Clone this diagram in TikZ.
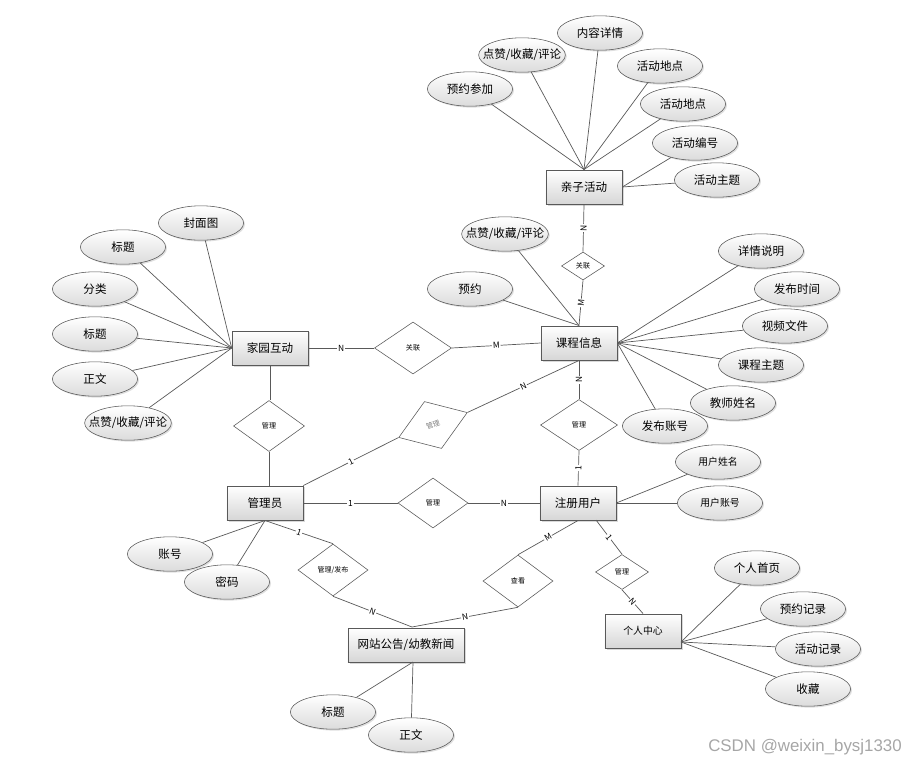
\documentclass[tikz,border=0pt]{standalone}
\usepackage{fontspec}
\setmainfont{Noto Sans CJK SC}
\newfontfamily\wmfont{Liberation Sans}
\usepackage{tikz}
\usetikzlibrary{shapes.geometric, shadows}

\tikzset{
  entity/.style={draw=black!65, top color=white, bottom color=black!16,
    minimum width=1.9cm, minimum height=0.86cm, inner sep=1pt,
    font=\fontsize{8.2}{9}\selectfont,
    drop shadow={opacity=0.3, shadow xshift=1.2pt, shadow yshift=-1.2pt}},
  attr/.style={ellipse, draw=black!65, top color=white, bottom color=black!14,
    minimum width=2.13cm, minimum height=0.86cm, inner xsep=-6pt, inner ysep=0pt,
    font=\fontsize{8.2}{9}\selectfont,
    drop shadow={opacity=0.25, shadow xshift=1pt, shadow yshift=-1pt}},
  rel/.style={diamond, draw=black!65, fill=white, inner sep=0pt,
    font=\fontsize{5}{5}\selectfont},
  link/.style={draw=black!65, line width=0.5pt},
  card/.style={fill=white, inner sep=0.6pt, sloped, font=\fontsize{6}{6}\selectfont},
}

\begin{document}
\begin{tikzpicture}[x=0.025cm, y=-0.025cm]
  \useasboundingbox (0,0) rectangle (907,763);

  % --- entities ---
  \node[entity] (qz) at (584,187) {亲子活动};
  \node[entity] (kc) at (579,343) {课程信息};
  \node[entity] (jy) at (270,348) {家园互动};
  \node[entity] (gly) at (265,503) {管理员};
  \node[entity] (zc) at (578,503) {注册用户};
  \node[entity, minimum width=2.9cm] (wz) at (406,645) {网站公告/幼教新闻};
  \node[entity, font=\fontsize{7}{8}\selectfont] (gr) at (643,631) {个人中心};

  % helper points on the boxes
  \coordinate (wzTop) at (412,627);
  \coordinate (wzBot) at (413,662);
  \coordinate (zcSE) at (596,520);
  \coordinate (grE) at (681,642);

  % --- relations ---
  \node[rel, minimum width=1.075cm, minimum height=0.7cm] (rqk) at (583,266) {关联};
  \node[rel, minimum width=1.925cm, minimum height=1.3cm] (rjk) at (413,348) {关联};
  \node[rel, minimum width=1.775cm, minimum height=1.275cm] (rjg) at (269,426) {管理};
  \node[rel, minimum width=1.825cm, minimum height=1.25cm, rotate=20, text=black!50] (rgk) at (433,425) {管理};
  \node[rel, minimum width=1.75cm, minimum height=1.25cm] (rgz) at (433,503) {管理};
  \node[rel, minimum width=1.925cm, minimum height=1.275cm] (rkz) at (579,425) {管理};
  \node[rel, minimum width=1.75cm, minimum height=1.3cm] (rgw) at (333,570) {管理/发布};
  \node[rel, minimum width=1.75cm, minimum height=1.3cm] (rzw) at (518,581) {查看};
  \node[rel, minimum width=1.325cm, minimum height=0.875cm] (rzg) at (622,572) {管理};

  % --- relation links ---
  \draw[link] (qz.south) -- node[card] {N} (rqk.north);
  \draw[link] (rqk.south) -- node[card] {M} (kc.north);
  \draw[link] (jy.east) -- node[card] {N} (rjk.west);
  \draw[link] (rjk.east) -- node[card] {M} (kc.west);
  \draw[link] (jy.south) -- (jy.south |- rjg.north);
  \draw[link] (rjg.south) -- (rjg.south |- gly.north);
  \draw[link] (gly.north east) -- node[card] {1} (rgk.west);
  \draw[link] (rgk.east) -- node[card] {N} (kc.south);
  \draw[link] (gly.east) -- node[card] {1} (rgz.west);
  \draw[link] (rgz.east) -- node[card] {N} (zc.west);
  \draw[link] (kc.south) -- node[card] {N} (rkz.north);
  \draw[link] (rkz.south) -- node[card] {1} (zc.north);
  \draw[link] (gly.south) -- node[card] {1} (rgw.north);
  \draw[link] (rgw.south) -- node[card] {N} (wzTop);
  \draw[link] (zc.south) -- node[card] {M} (rzw.north);
  \draw[link] (rzw.south) -- node[card] {N} (wzTop);
  \draw[link] (zcSE) -- node[card] {1} (rzg.north);
  \draw[link] (rzg.south) -- node[card] {N} (gr.north);

  % --- attributes of 亲子活动 ---
  \node[attr] (qz1) at (600,33) {内容详情};
  \node[attr] (qz2) at (522,55) {点赞/收藏/评论};
  \node[attr] (qz3) at (470,89) {预约参加};
  \node[attr] (qz4) at (660,66) {活动地点};
  \node[attr] (qz5) at (683,104) {活动地点};
  \node[attr] (qz6) at (695,143) {活动编号};
  \node[attr] (qz7) at (717,180) {活动主题};
  \draw[link] (qz1) -- (qz.north);
  \draw[link] (qz2) -- (qz.north);
  \draw[link] (qz3) -- (qz.north);
  \draw[link] (qz4) -- (qz.north);
  \draw[link] (qz5) -- (qz.north);
  \draw[link] (qz6) -- (qz.east);
  \draw[link] (qz7) -- (qz.east);

  % --- attributes of 课程信息 ---
  \node[attr] (kc1) at (505,234) {点赞/收藏/评论};
  \node[attr] (kc2) at (470,289) {预约};
  \node[attr] (kc3) at (761,251) {详情说明};
  \node[attr] (kc4) at (797,289) {发布时间};
  \node[attr] (kc5) at (785,326) {视频文件};
  \node[attr] (kc6) at (761,365) {课程主题};
  \node[attr] (kc7) at (733,403) {教师姓名};
  \node[attr] (kc8) at (665,426) {发布账号};
  \draw[link] (kc1) -- (kc.north);
  \draw[link] (kc2) -- (kc.north);
  \draw[link] (kc3) -- (kc.east);
  \draw[link] (kc4) -- (kc.east);
  \draw[link] (kc5) -- (kc.east);
  \draw[link] (kc6) -- (kc.east);
  \draw[link] (kc7) -- (kc.east);
  \draw[link] (kc8) -- (kc.east);

  % --- attributes of 家园互动 ---
  \node[attr] (jy1) at (201,223) {封面图};
  \node[attr] (jy2) at (123,247) {标题};
  \node[attr] (jy3) at (95,289) {分类};
  \node[attr] (jy4) at (95,334) {标题};
  \node[attr] (jy5) at (95,379) {正文};
  \node[attr] (jy6) at (128,423) {点赞/收藏/评论};
  \draw[link] (jy1) -- (jy.west);
  \draw[link] (jy2) -- (jy.west);
  \draw[link] (jy3) -- (jy.west);
  \draw[link] (jy4) -- (jy.west);
  \draw[link] (jy5) -- (jy.west);
  \draw[link] (jy6) -- (jy.west);

  % --- attributes of 管理员 ---
  \node[attr] (gly1) at (170,554) {账号};
  \node[attr] (gly2) at (227,582) {密码};
  \draw[link] (gly1) -- (gly.south);
  \draw[link] (gly2) -- (gly.south);

  % --- attributes of 注册用户 ---
  \node[attr, font=\fontsize{7}{8}\selectfont] (zc1) at (718,462) {用户姓名};
  \node[attr, font=\fontsize{7}{8}\selectfont] (zc2) at (720,503) {用户账号};
  \draw[link] (zc1) -- (zc.east);
  \draw[link] (zc2) -- (zc.east);

  % --- attributes of 网站公告/幼教新闻 ---
  \node[attr] (wz1) at (333,712) {标题};
  \node[attr] (wz2) at (411,735) {正文};
  \draw[link] (wz1) -- (wzBot);
  \draw[link] (wz2) -- (wzBot);

  % --- attributes of 个人中心 ---
  \node[attr] (gr1) at (757,568) {个人首页};
  \node[attr] (gr2) at (803,609) {预约记录};
  \node[attr] (gr3) at (818,649) {活动记录};
  \node[attr] (gr4) at (808,689) {收藏};
  \draw[link] (gr1) -- (grE);
  \draw[link] (gr2) -- (grE);
  \draw[link] (gr3) -- (grE);
  \draw[link] (gr4) -- (grE);

  % watermark
  \node[text=black!35, font=\wmfont\fontsize{12}{12}\selectfont] (wm) at (805,747) {CSDN @weixin\_bysj1330};

\end{tikzpicture}
\end{document}
